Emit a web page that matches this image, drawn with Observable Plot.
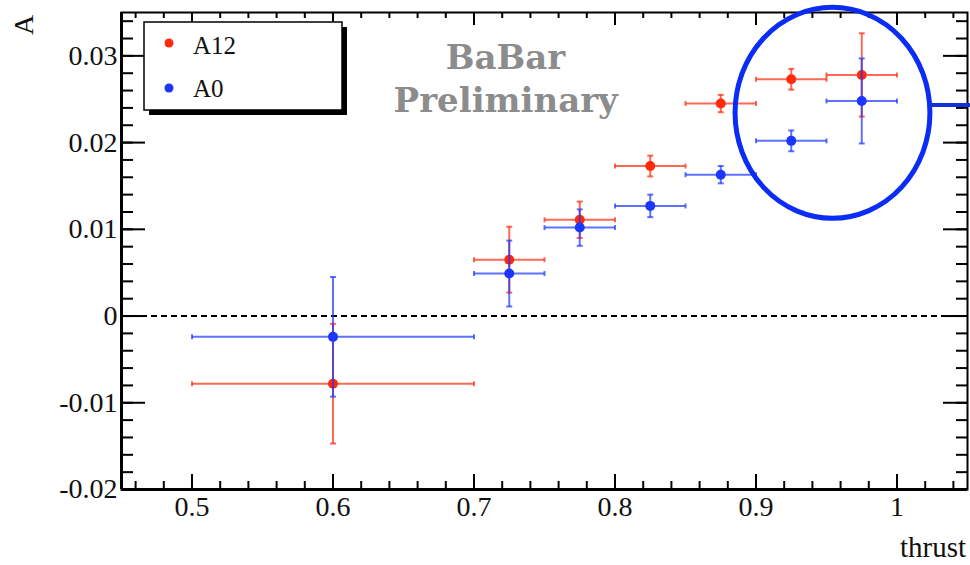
<!DOCTYPE html>
<html><head><meta charset="utf-8">
<script src="https://cdn.jsdelivr.net/npm/d3@7"></script>
<script src="https://cdn.jsdelivr.net/npm/@observablehq/plot@0.6"></script>
<style>
body{margin:0;background:#fff;}
#wrap{position:relative;width:970px;height:565px;overflow:hidden;}
#wrap svg text{font-family:"Liberation Serif","DejaVu Serif",serif;}
#wrap svg text.wm{font-family:"DejaVu Serif",serif;}
</style>
</head><body><div id="wrap"></div>
<script>
// ---- data ----
const thrust   = [0.6, 0.725, 0.775, 0.825, 0.875, 0.925, 0.975];
const thrustLo = [0.5, 0.70, 0.75, 0.80, 0.85, 0.90, 0.95];
const thrustHi = [0.7, 0.75, 0.80, 0.85, 0.90, 0.95, 1.00];
const A12      = [-0.0078, 0.0065, 0.0111, 0.0173, 0.0245, 0.0273, 0.0278];
const A12err   = [0.0069, 0.0038, 0.0021, 0.0012, 0.0010, 0.0012, 0.0048];
const A0       = [-0.0024, 0.0049, 0.0102, 0.0127, 0.0163, 0.0202, 0.0248];
const A0err    = [0.0069, 0.0038, 0.0021, 0.0013, 0.0010, 0.0012, 0.0049];
const seriesNames = ["A12", "A0"];
const seriesColors = ["#ff2a0a", "#1a36ff"];
const xMajor = [0.5, 0.6, 0.7, 0.8, 0.9, 1];
const yMajor = [-0.02, -0.01, 0, 0.01, 0.02, 0.03];
const xMinor = d3.range(46, 105, 2).map(v => v / 100);
const yMinor = d3.range(-20, 35, 2).map(v => v / 1000);
const watermark = ["BaBar", "Preliminary"];

// ---- layout ----
const W = 970, H = 565, mL = 121, mR = 3, mT = 12, mB = 76;
const fw = W - mL - mR, fh = H - mT - mB;
const font = "'Liberation Serif', 'DejaVu Serif', serif";

const makeRows = (vals, errs) => thrust.map((t, i) => ({t, lo: thrustLo[i], hi: thrustHi[i], y: vals[i], e: errs[i]}));
const series = [makeRows(A12, A12err), makeRows(A0, A0err)];

const vbar = {draw(ctx, size) {const h = Math.sqrt(size / Math.PI); ctx.moveTo(0, -h); ctx.lineTo(0, h);}};
const hbar = {draw(ctx, size) {const h = Math.sqrt(size / Math.PI); ctx.moveTo(-h, 0); ctx.lineTo(h, 0);}};

function seriesMarks(rows, color) {
  const line = {stroke: color, strokeWidth: 2, strokeOpacity: 0.7};
  return [
    Plot.link(rows, {x1: "lo", x2: "hi", y1: "y", y2: "y", ...line}),
    Plot.link(rows, {x1: "t", x2: "t", y1: d => d.y - d.e, y2: d => d.y + d.e, ...line}),
    Plot.dot(rows, {x: "lo", y: "y", symbol: vbar, r: 2.5, fill: "none", ...line}),
    Plot.dot(rows, {x: "hi", y: "y", symbol: vbar, r: 2.5, fill: "none", ...line}),
    Plot.dot(rows, {x: "t", y: d => d.y - d.e, symbol: hbar, r: 3, fill: "none", ...line}),
    Plot.dot(rows, {x: "t", y: d => d.y + d.e, symbol: hbar, r: 3, fill: "none", ...line}),
    Plot.dot(rows, {x: "t", y: "y", r: 5, fill: color})
  ];
}

const tickStyle = {stroke: "#000", strokeWidth: 2};
const plot = Plot.plot({
  width: W, height: H,
  marginLeft: mL, marginRight: mR, marginTop: mT, marginBottom: mB,
  style: {fontFamily: font, background: "#fff", overflow: "visible"},
  x: {domain: [0.45, 1.05]},
  y: {domain: [-0.02, 0.035]},
  marks: [
    Plot.ruleY([0], {stroke: "#000", strokeWidth: 2, strokeDasharray: "6,4"}),
    // bottom & top ticks
    Plot.tickX(xMajor, {x: d => d, insetTop: fh - 15, ...tickStyle}),
    Plot.tickX(xMinor, {x: d => d, insetTop: fh - 8, ...tickStyle}),
    Plot.tickX(xMajor, {x: d => d, insetBottom: fh - 13, ...tickStyle}),
    Plot.tickX(xMinor, {x: d => d, insetBottom: fh - 6, ...tickStyle}),
    // left & right ticks
    Plot.tickY(yMajor, {y: d => d, insetRight: fw - 24, ...tickStyle}),
    Plot.tickY(yMinor, {y: d => d, insetRight: fw - 12, ...tickStyle}),
    Plot.tickY(yMajor, {y: d => d, insetLeft: fw - 24, ...tickStyle}),
    Plot.tickY(yMinor, {y: d => d, insetLeft: fw - 11, ...tickStyle}),
    Plot.axisX({ticks: xMajor, tickSize: 0, tickPadding: 7, fontSize: 28, fontFamily: font, fontVariant: "normal", tickFormat: d => String(d), label: null, fill: "#111"}),
    Plot.axisY({ticks: yMajor, tickSize: 0, tickPadding: 4, fontSize: 28, fontFamily: font, fontVariant: "normal", tickFormat: d => String(d), label: null, fill: "#111"}),
    Plot.frame({stroke: "#000", strokeWidth: 2}),
    Plot.ruleX([0.45], {stroke: "#000", strokeWidth: 3}),
    Plot.ruleY([-0.02], {stroke: "#000", strokeWidth: 3}),
    Plot.text([watermark[0]], {x: 0.7223, y: 0.02854, text: d => d, className: "wm", fontSize: 34, fontWeight: "bold", fill: "#8c8c8c", textAnchor: "middle", lineAnchor: "bottom"}),
    Plot.text([watermark[1]], {x: 0.7225, y: 0.02347, text: d => d, className: "wm", fontSize: 34, fontWeight: "bold", fill: "#8c8c8c", textAnchor: "middle", lineAnchor: "bottom"}),
    ...seriesMarks(series[0], seriesColors[0]),
    ...seriesMarks(series[1], seriesColors[1])
  ]
});

document.getElementById("wrap").appendChild(plot);
plot.querySelectorAll("g[aria-label='text'] text").forEach(t => t.classList.add("wm"));
const svg = d3.select(plot);
const sx = plot.scale("x"), sy = plot.scale("y");

// highlight circle annotation (data coordinates)
const ann = {cx: 0.9546, cy: 0.02338, rx: 0.0691, ry: 0.01216, lineX1: 1.024, lineX2: 1.06, lineY: 0.02428};
svg.append("ellipse")
  .attr("cx", sx.apply(ann.cx)).attr("cy", sy.apply(ann.cy))
  .attr("rx", sx.apply(ann.cx + ann.rx) - sx.apply(ann.cx))
  .attr("ry", sy.apply(ann.cy) - sy.apply(ann.cy + ann.ry))
  .attr("fill", "none").attr("stroke", "#0a2cf5").attr("stroke-width", 5);
svg.append("line")
  .attr("x1", sx.apply(ann.lineX1)).attr("x2", sx.apply(ann.lineX2))
  .attr("y1", sy.apply(ann.lineY)).attr("y2", sy.apply(ann.lineY))
  .attr("stroke", "#1430d8").attr("stroke-width", 4);

// legend
const lg = svg.append("g").attr("font-size", 25).attr("text-anchor", "start");
lg.append("rect").attr("x", 149).attr("y", 27).attr("width", 198).attr("height", 88).attr("fill", "#000");
lg.append("rect").attr("x", 144).attr("y", 22).attr("width", 198).attr("height", 88).attr("fill", "#fff").attr("stroke", "#000").attr("stroke-width", 1.5);
seriesNames.forEach((name, i) => {
  lg.append("circle").attr("cx", 169).attr("cy", 43 + i * 45).attr("r", 4.5).attr("fill", seriesColors[i]);
  lg.append("text").attr("x", 193).attr("y", 54 + i * 43).attr("text-anchor", "start").attr("fill", "#111").text(name);
});

// axis titles
svg.append("text").attr("transform", "translate(33,25) rotate(-90)").attr("text-anchor", "middle")
  .attr("font-size", 28).attr("fill", "#111").text("A");
svg.append("text").attr("x", 966).attr("y", 557).attr("text-anchor", "end")
  .attr("font-size", 29).attr("fill", "#111").text("thrust");
</script>
</body></html>
